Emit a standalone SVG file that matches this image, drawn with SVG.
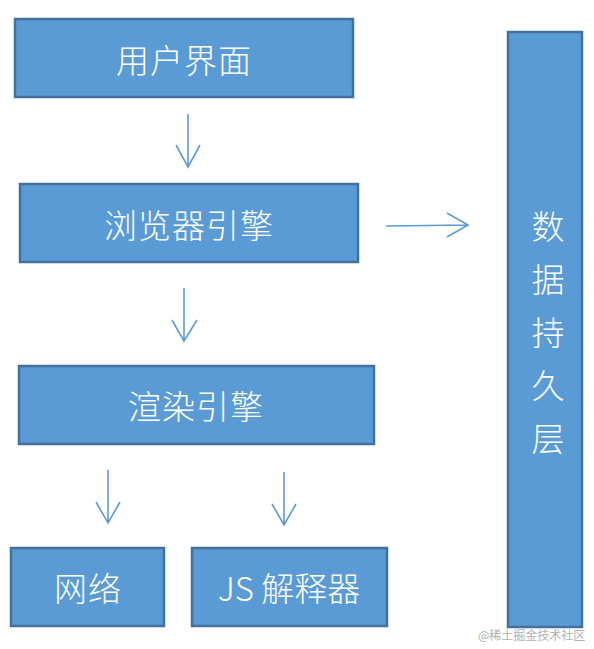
<svg xmlns="http://www.w3.org/2000/svg" width="594" height="649" viewBox="0 0 594 649">
<defs>
<style>
.box{fill:#5b9bd5;stroke:#41719c;stroke-width:2.5}
.lbl{fill:#ffffff;font-family:"Noto Sans CJK SC","Noto Sans",sans-serif;font-weight:300;font-size:33px;text-anchor:middle;dominant-baseline:central}
.conn{stroke:#5b9bd5;stroke-width:1.6;fill:none}
.wm{fill:#b0b0b0;font-family:"Noto Sans CJK SC",sans-serif;font-size:12px}
</style>
</defs>
<rect width="594" height="649" fill="#ffffff"/>
<g id="ui">
<rect class="box" x="15" y="19" width="338" height="78"/>
<text class="lbl" x="184" y="59" letter-spacing="1">用户界面</text>
</g>
<g id="browser-engine">
<rect class="box" x="20" y="184" width="338" height="78"/>
<text class="lbl" x="189" y="224" letter-spacing="1">浏览器引擎</text>
</g>
<g id="render-engine">
<rect class="box" x="19" y="366" width="355" height="78"/>
<text class="lbl" x="196" y="405" letter-spacing="1">渲染引擎</text>
</g>
<g id="network">
<rect class="box" x="11" y="548" width="153" height="78"/>
<text class="lbl" x="88" y="587" letter-spacing="1">网络</text>
</g>
<g id="js">
<rect class="box" x="192" y="548" width="195" height="78"/>
<text class="lbl" x="289" y="587">JS 解释器</text>
</g>
<g id="data">
<rect class="box" x="508" y="32" width="74" height="595"/>
<text class="lbl" x="548" y="225">数</text>
<text class="lbl" x="548" y="278">据</text>
<text class="lbl" x="548" y="331">持</text>
<text class="lbl" x="548" y="384">久</text>
<text class="lbl" x="548" y="437">层</text>
</g>
<g id="connectors">
<path class="conn" d="M188 114V167M176 145L188 167L200 145"/>
<path class="conn" d="M184 288V341M172 320L184 341L197 320"/>
<path class="conn" d="M108 470V523M96 502L108 523L120 502"/>
<path class="conn" d="M284 472V525M272 504L284 525L296 504"/>
<path class="conn" d="M386 226L468 225M447 213L468 225L447 237"/>
</g>
<text class="wm" x="478" y="640">@稀土掘金技术社区</text>
</svg>
